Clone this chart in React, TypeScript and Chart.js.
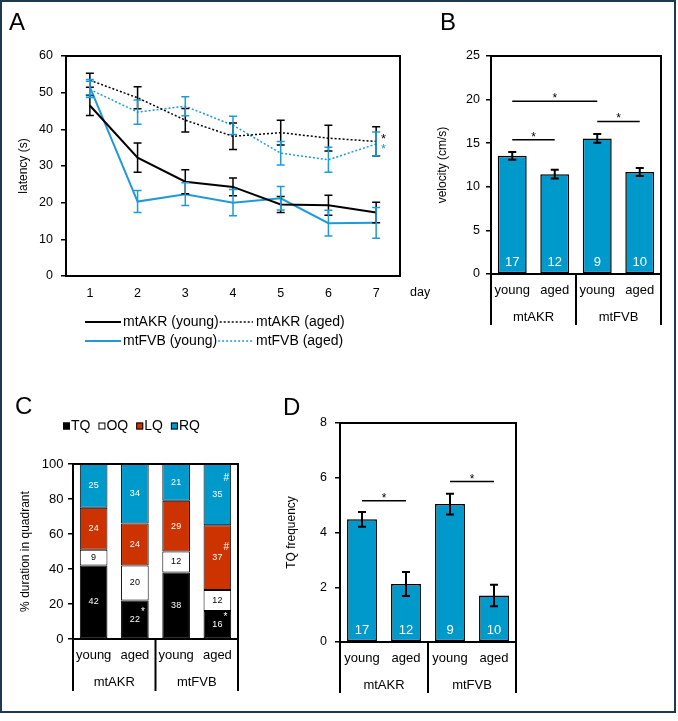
import React, { useEffect, useRef } from 'react';
import { Chart, registerables } from 'chart.js';

Chart.register(...registerables);

const FONT = '"Liberation Sans", Arial, Helvetica, sans-serif';
Chart.defaults.font.family = FONT;
Chart.defaults.color = '#000';

const BLUE_LINE = '#1E9AD6';
const BLUE_BAR = '#0099CC';
const RED = '#CC3300';

// ---------- Panel A: latency per day ----------
const days = ['1', '2', '3', '4', '5', '6', '7'];
const akrYoung = [46.5, 32.3, 25.7, 24.3, 19.5, 19.3, 17.3];
const akrYoungErr = [2.7, 4.0, 3.3, 2.4, 2.2, 2.7, 2.8];
const akrAged = [53.4, 48.6, 42.5, 38.1, 39.1, 37.6, 36.7];
const akrAgedErr = [1.9, 3.0, 3.2, 3.6, 3.4, 3.5, 4.0];
const fvbYoung = [51.5, 20.3, 22.3, 20.0, 21.2, 14.4, 14.5];
const fvbYoungErr = [2.1, 3.0, 3.1, 3.6, 3.2, 3.5, 4.2];
const fvbAged = [50.9, 44.7, 46.3, 41.1, 33.5, 31.7, 36.0];
const fvbAgedErr = [2.2, 3.3, 2.6, 2.5, 3.2, 3.4, 3.3];

// ---------- Shared categories ----------
const strains = ['mtAKR', 'mtFVB'];
const ages = ['young', 'aged', 'young', 'aged'];
const nMice = ['17', '12', '9', '10'];

// ---------- Panel B: velocity ----------
const velocity = [13.55, 11.45, 15.55, 11.7];
const velocityErr = [0.45, 0.5, 0.5, 0.45];
const velocitySig = [[0, 2, 19.8], [0, 1, 15.4], [2, 3, 17.5]];

// ---------- Panel C: % duration in quadrant ----------
const tqDur = [42, 22, 38, 16];
const oqDur = [9, 20, 12, 12];
const lqDur = [24, 24, 29, 37];
const rqDur = [25, 34, 21, 35];
const tqMarks = ['', '*', '', '*'];
const lqMarks = ['', '', '', '#'];
const rqMarks = ['', '', '', '#'];

// ---------- Panel D: TQ frequency ----------
const tqFreq = [4.48, 2.12, 5.04, 1.7];
const tqFreqErr = [0.27, 0.44, 0.38, 0.39];
const tqFreqSig = [[0, 1, 5.16], [2, 3, 5.86]];

const f = (size: number) => `${size}px ${FONT}`;

// ---------- Plugins ----------
const panelLetterPlugin = {
  id: 'panelLetter',
  afterDraw(chart: any, _a: any, o: any) {
    const ctx = chart.ctx;
    ctx.save();
    ctx.fillStyle = '#000';
    ctx.font = f(o.size || 24);
    ctx.textAlign = 'left';
    ctx.textBaseline = 'alphabetic';
    ctx.fillText(o.text, o.x, o.y);
    ctx.restore();
  },
};

const plotBoxPlugin = {
  id: 'plotBox',
  afterDatasetsDraw(chart: any, _a: any, o: any) {
    const { ctx, chartArea } = chart;
    ctx.save();
    ctx.strokeStyle = '#000';
    ctx.lineWidth = o.lineWidth || 2;
    ctx.setLineDash([]);
    ctx.strokeRect(chartArea.left, chartArea.top, chartArea.right - chartArea.left, chartArea.bottom - chartArea.top);
    ctx.restore();
  },
};

const errorBarPlugin = {
  id: 'errorBars',
  afterDatasetsDraw(chart: any, _a: any, o: any) {
    const ctx = chart.ctx;
    const ys = chart.scales.y;
    chart.data.datasets.forEach((ds: any, i: number) => {
      if (!ds.errors) return;
      const meta = chart.getDatasetMeta(i);
      ctx.save();
      ctx.strokeStyle = ds.errorColor || ds.borderColor;
      ctx.lineWidth = o.lineWidth || 1.5;
      ctx.setLineDash([]);
      const cw = o.cap || 4;
      meta.data.forEach((el: any, j: number) => {
        const v = ds.data[j];
        const e = ds.errors[j];
        const x = el.x;
        const t = ys.getPixelForValue(v + e);
        const b = ys.getPixelForValue(v - e);
        ctx.beginPath();
        ctx.moveTo(x, t); ctx.lineTo(x, b);
        ctx.moveTo(x - cw, t); ctx.lineTo(x + cw, t);
        ctx.moveTo(x - cw, b); ctx.lineTo(x + cw, b);
        ctx.stroke();
      });
      ctx.restore();
    });
  },
};

const legendAPlugin = {
  id: 'legendA',
  afterDraw(chart: any, _a: any, o: any) {
    const ctx = chart.ctx;
    const ds = chart.data.datasets;
    ctx.save();
    ctx.font = f(o.size);
    ctx.textBaseline = 'middle';
    ctx.fillStyle = '#000';
    const seg = (a: any, x0: number, x1: number, y: number) => {
      ctx.strokeStyle = a.borderColor;
      ctx.lineWidth = a.borderWidth;
      ctx.setLineDash(a.borderDash || []);
      ctx.beginPath(); ctx.moveTo(x0, y); ctx.lineTo(x1, y); ctx.stroke();
      ctx.setLineDash([]);
    };
    o.rows.forEach((r: number[], k: number) => {
      const y = o.ys[k];
      const a = ds[r[0]];
      const b = ds[r[1]];
      seg(a, o.x0, o.x1, y);
      ctx.fillText(a.label, o.x1 + 2, y);
      const w = ctx.measureText(a.label).width;
      seg(b, o.x1 + 3 + w, o.x2, y);
      ctx.fillText(b.label, o.x2 + 3, y);
    });
    ctx.restore();
  },
};

const lineNotesPlugin = {
  id: 'lineNotes',
  afterDraw(chart: any, _a: any, o: any) {
    const { ctx, chartArea } = chart;
    ctx.save();
    ctx.font = f(o.unitSize);
    ctx.fillStyle = '#000';
    ctx.textAlign = 'left';
    ctx.textBaseline = 'middle';
    ctx.fillText(o.unit, chartArea.right + 10, chartArea.bottom + o.unitOffset);
    ctx.textAlign = 'center';
    ctx.textBaseline = 'alphabetic';
    ctx.font = f(13);
    o.stars.forEach((s: any) => {
      const ds = chart.data.datasets[s.ds];
      const meta = chart.getDatasetMeta(s.ds);
      const last = meta.data[meta.data.length - 1];
      ctx.fillStyle = ds.borderColor;
      ctx.fillText('*', last.x + 7.5, last.y + s.dy + 7.4);
    });
    ctx.restore();
  },
};

const groupAxisPlugin = {
  id: 'groupAxis',
  afterDraw(chart: any, _a: any, o: any) {
    const { ctx, chartArea } = chart;
    const xs = chart.scales.x;
    const n = chart.data.labels.length;
    const groups = o.groups;
    const per = n / groups.length;
    const bottom = chartArea.bottom;
    ctx.save();
    ctx.strokeStyle = '#000';
    ctx.lineWidth = 2;
    const dividers = [chartArea.left, chartArea.right];
    for (let g = 1; g < groups.length; g++) {
      dividers.push((xs.getPixelForValue(g * per - 1) + xs.getPixelForValue(g * per)) / 2);
    }
    dividers.forEach((d: number) => {
      ctx.beginPath(); ctx.moveTo(d, bottom); ctx.lineTo(d, bottom + o.depth); ctx.stroke();
    });
    ctx.fillStyle = '#000';
    ctx.font = f(o.size);
    ctx.textAlign = 'center';
    ctx.textBaseline = 'middle';
    groups.forEach((g: string, k: number) => {
      const x0 = xs.getPixelForValue(k * per);
      const x1 = xs.getPixelForValue(k * per + per - 1);
      ctx.fillText(g, (x0 + x1) / 2, bottom + o.offset);
    });
    ctx.restore();
  },
};

const sigPlugin = {
  id: 'sig',
  afterDatasetsDraw(chart: any, _a: any, o: any) {
    const ctx = chart.ctx;
    const xs = chart.scales.x;
    const ys = chart.scales.y;
    ctx.save();
    ctx.strokeStyle = '#000';
    ctx.fillStyle = '#000';
    ctx.lineWidth = 1.5;
    ctx.font = f(12);
    ctx.textAlign = 'center';
    ctx.textBaseline = 'alphabetic';
    o.pairs.forEach((p: number[]) => {
      const x0 = xs.getPixelForValue(p[0]);
      const x1 = xs.getPixelForValue(p[1]);
      const y = ys.getPixelForValue(p[2]);
      ctx.beginPath(); ctx.moveTo(x0, y); ctx.lineTo(x1, y); ctx.stroke();
      ctx.fillText('*', (x0 + x1) / 2, y + 1);
    });
    ctx.restore();
  },
};

const nLabelPlugin = {
  id: 'nLabels',
  afterDatasetsDraw(chart: any, _a: any, o: any) {
    const { ctx, chartArea } = chart;
    const meta = chart.getDatasetMeta(0);
    ctx.save();
    ctx.fillStyle = '#fff';
    ctx.font = f(o.size);
    ctx.textAlign = 'center';
    ctx.textBaseline = 'middle';
    meta.data.forEach((el: any, j: number) => {
      ctx.fillText(o.labels[j], el.x, chartArea.bottom - o.offset);
    });
    ctx.restore();
  },
};

const segmentLabelPlugin = {
  id: 'segLabels',
  afterDatasetsDraw(chart: any, _a: any, o: any) {
    const ctx = chart.ctx;
    ctx.save();
    ctx.textAlign = 'center';
    ctx.textBaseline = 'middle';
    chart.data.datasets.forEach((ds: any, i: number) => {
      const meta = chart.getDatasetMeta(i);
      meta.data.forEach((el: any, j: number) => {
        const cy = (el.y + el.base) / 2;
        const txt = String(ds.data[j]);
        ctx.font = f(o.size);
        ctx.fillStyle = ds.textColor;
        ctx.fillText(txt, el.x, cy);
        const mk = ds.marks ? ds.marks[j] : '';
        if (mk) {
          const w = ctx.measureText(txt).width;
          ctx.font = f(o.size + 1);
          ctx.textAlign = 'left';
          ctx.fillText(mk, el.x + w / 2 + 1, cy + ds.markDy);
          ctx.textAlign = 'center';
        }
      });
    });
    ctx.restore();
  },
};

const legendCPlugin = {
  id: 'legendC',
  afterDraw(chart: any, _a: any, o: any) {
    const ctx = chart.ctx;
    ctx.save();
    ctx.font = f(o.size);
    ctx.textBaseline = 'middle';
    ctx.textAlign = 'left';
    let x = o.x;
    const y = o.y;
    chart.data.datasets.forEach((ds: any) => {
      ctx.fillStyle = ds.backgroundColor;
      ctx.fillRect(x, y - o.box / 2, o.box, o.box);
      ctx.strokeStyle = '#000';
      ctx.lineWidth = 1;
      ctx.strokeRect(x + 0.5, y - o.box / 2 + 0.5, o.box - 1, o.box - 1);
      ctx.fillStyle = '#000';
      ctx.fillText(ds.label, x + o.box + 1, y);
      x += o.box + 1 + ctx.measureText(ds.label).width + o.gap;
    });
    ctx.restore();
  },
};

// ---------- Helpers ----------
const yAxis = (min: number, max: number, step: number, title: string, width: number, tickSize: number, tickPad: number, titleSize: number, titlePad: number) => ({
  min,
  max,
  ticks: { stepSize: step, font: { size: tickSize }, color: '#000', padding: tickPad },
  grid: { drawOnChartArea: false, drawTicks: true, tickLength: 5, color: '#000', lineWidth: 1.5 },
  border: { display: true, color: '#000', width: 2 },
  title: { display: true, text: title, color: '#000', font: { size: titleSize }, padding: { top: titlePad, bottom: 0 } },
  afterFit: (s: any) => { s.width = width; },
});

const xAxis = (height: number, size: number, pad: number, extra: any = {}) => ({
  grid: { display: false, drawTicks: false },
  border: { display: true, color: '#000', width: 2 },
  ticks: { font: { size }, color: '#000', padding: pad, maxRotation: 0, autoSkip: false },
  afterFit: (s: any) => { s.height = height; },
  ...extra,
});

const baseOptions = (padding: any) => ({
  animation: false,
  responsive: false,
  maintainAspectRatio: false,
  layout: { padding },
  events: [],
});

// ---------- Configs ----------
const configA = () => ({
  type: 'line',
  data: {
    labels: days,
    datasets: [
      { label: 'mtAKR (young)', data: akrYoung, errors: akrYoungErr, borderColor: '#000', backgroundColor: '#000', borderWidth: 2, borderDash: [] },
      { label: 'mtAKR (aged)', data: akrAged, errors: akrAgedErr, borderColor: '#000', backgroundColor: '#000', borderWidth: 1.5, borderDash: [2, 2] },
      { label: 'mtFVB (young)', data: fvbYoung, errors: fvbYoungErr, borderColor: BLUE_LINE, backgroundColor: BLUE_LINE, borderWidth: 2, borderDash: [] },
      { label: 'mtFVB (aged)', data: fvbAged, errors: fvbAgedErr, borderColor: BLUE_LINE, backgroundColor: BLUE_LINE, borderWidth: 1.5, borderDash: [2, 2] },
    ],
  },
  options: {
    ...baseOptions({ left: 0, top: 56, right: 40, bottom: 54 }),
    elements: { point: { radius: 0, hoverRadius: 0 }, line: { tension: 0 } },
    plugins: {
      legend: { display: false },
      tooltip: { enabled: false },
      panelLetter: { text: 'A', x: 9, y: 30, size: 24 },
      errorBars: { cap: 4, lineWidth: 1.5 },
      plotBox: { lineWidth: 2 },
      legendA: { rows: [[0, 1], [2, 3]], ys: [322, 341], x0: 85, x1: 121, x2: 253, size: 14 },
      lineNotes: { unit: 'day', unitSize: 12.5, unitOffset: 17, stars: [{ ds: 1, dy: -5.5 }, { ds: 3, dy: 1.5 }] },
    },
    scales: {
      x: xAxis(30, 12.5, 10, { offset: true }),
      y: yAxis(0, 60, 10, 'latency (s)', 66, 12.5, 8, 12, 16),
    },
  },
  plugins: [panelLetterPlugin, errorBarPlugin, plotBoxPlugin, legendAPlugin, lineNotesPlugin],
});

const barConfig = (letter: string, letterX: number, letterY: number, values: number[], errs: number[], sig: number[][], yMin: number, yMax: number, step: number, title: string, padding: any, yWidth: number, tickPad: number, titlePad: number, tickSize: number) => ({
  type: 'bar',
  data: {
    labels: ages,
    datasets: [
      { data: values, errors: errs, errorColor: '#000', backgroundColor: BLUE_BAR, borderColor: '#000', borderWidth: 1.5, borderSkipped: false, barPercentage: 0.68, categoryPercentage: 1 },
    ],
  },
  options: {
    ...baseOptions(padding),
    plugins: {
      legend: { display: false },
      tooltip: { enabled: false },
      panelLetter: { text: letter, x: letterX, y: letterY, size: 24 },
      errorBars: { cap: 4, lineWidth: 2 },
      plotBox: { lineWidth: 2 },
      sig: { pairs: sig },
      nLabels: { labels: nMice, size: 13, offset: 12 },
      groupAxis: { groups: strains, size: 13, offset: 43, depth: 51 },
    },
    scales: {
      x: xAxis(56, 13, 9),
      y: yAxis(yMin, yMax, step, title, yWidth, tickSize, tickPad, 12, titlePad),
    },
  },
  plugins: [panelLetterPlugin, errorBarPlugin, plotBoxPlugin, sigPlugin, nLabelPlugin, groupAxisPlugin],
});

const configB = () => barConfig('B', 10, 30, velocity, velocityErr, velocitySig, 0, 25, 5, 'velocity (cm/s)', { left: 0, top: 56, right: 17, bottom: 30 }, 61, 6, 5.5, 12.5);
const configD = () => barConfig('D', 23, 55, tqFreq, tqFreqErr, tqFreqSig, 0, 8, 2, 'TQ frequency', { left: 0, top: 63, right: 162, bottom: 23 }, 80, 8, 24.5, 12.5);

const configC = () => ({
  type: 'bar',
  data: {
    labels: ages,
    datasets: [
      { label: 'TQ', data: tqDur, marks: tqMarks, markDy: -7, textColor: '#fff', backgroundColor: '#000', borderColor: '#000', borderWidth: 1, borderSkipped: false, barPercentage: 0.67, categoryPercentage: 1 },
      { label: 'OQ', data: oqDur, textColor: '#000', backgroundColor: '#fff', borderColor: '#000', borderWidth: 1, borderSkipped: false, barPercentage: 0.67, categoryPercentage: 1 },
      { label: 'LQ', data: lqDur, marks: lqMarks, markDy: -10, textColor: '#fff', backgroundColor: RED, borderColor: '#000', borderWidth: 1, borderSkipped: false, barPercentage: 0.67, categoryPercentage: 1 },
      { label: 'RQ', data: rqDur, marks: rqMarks, markDy: -16, textColor: '#fff', backgroundColor: BLUE_BAR, borderColor: '#000', borderWidth: 1, borderSkipped: false, barPercentage: 0.67, categoryPercentage: 1 },
    ],
  },
  options: {
    ...baseOptions({ left: 0, top: 104, right: 12, bottom: 26 }),
    plugins: {
      legend: { display: false },
      tooltip: { enabled: false },
      panelLetter: { text: 'C', x: 15, y: 54, size: 24 },
      plotBox: { lineWidth: 2 },
      segLabels: { size: 9 },
      legendC: { x: 63, y: 66, box: 7, gap: 8, size: 14 },
      groupAxis: { groups: strains, size: 13, offset: 43, depth: 52 },
    },
    scales: {
      x: xAxis(56, 13, 9, { stacked: true }),
      y: { ...yAxis(0, 100, 20, '% duration in quadrant', 73, 13, 4.5, 12, 18), stacked: true },
    },
  },
  plugins: [panelLetterPlugin, plotBoxPlugin, segmentLabelPlugin, legendCPlugin, groupAxisPlugin],
});

function ChartCanvas({ x, y, w, h, config }: { x: number; y: number; w: number; h: number; config: () => any }) {
  const ref = useRef<HTMLCanvasElement | null>(null);
  useEffect(() => {
    if (!ref.current) return;
    const chart = new Chart(ref.current, config());
    return () => chart.destroy();
  }, []);
  return (
    <div style={{ position: 'absolute', left: x, top: y, width: w, height: h }}>
      <canvas ref={ref} width={w} height={h} style={{ display: 'block', width: w, height: h }} />
    </div>
  );
}

export default function App() {
  return (
    <div style={{ position: 'absolute', left: 0, top: 0, width: 678, height: 721, background: '#fff', overflow: 'hidden', fontFamily: FONT }}>
      <ChartCanvas x={0} y={0} w={440} h={360} config={configA} />
      <ChartCanvas x={430} y={0} w={248} h={360} config={configB} />
      <ChartCanvas x={0} y={360} w={250} h={361} config={configC} />
      <ChartCanvas x={260} y={360} w={418} h={361} config={configD} />
      <div style={{ position: 'absolute', left: 0, top: 0, width: 676, height: 713, border: '2px solid #1d3b4e', boxSizing: 'border-box', pointerEvents: 'none' }} />
    </div>
  );
}
